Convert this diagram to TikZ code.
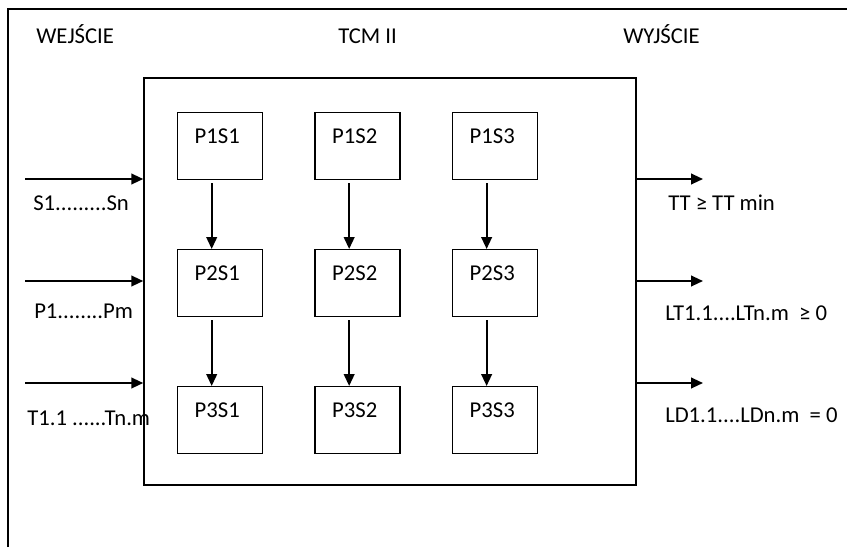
\documentclass[tikz,border=0pt]{standalone}
\usepackage{fontspec}
\setmainfont{Carlito}
\usetikzlibrary{positioning, arrows.meta}

\begin{document}
\begin{tikzpicture}[
			x=0.75pt, y=-0.75pt,
			node distance=51.4pt and 38.25pt, % Vertical and Horizontal spacing
			font=\fontsize{17}{20}\selectfont,
			>={Triangle[length=9pt, width=8pt]},
			% Style for the small process boxes
			stage/.style={
				draw,
				line width=1.1pt,
				text height=23.25pt,
				text depth=27pt,
				inner ysep=0pt,
				inner xsep=12.75pt,
				text width=38.25pt,
				align=left
			},
			% Style for the big TCM box
			frame/.style={
				draw,
				line width=1.1pt,
				minimum width=369pt,
				minimum height=305.25pt,
				inner sep=0pt
			},
			% Style for the arrows
			flow/.style={
				->,
				line width=1.5pt
			},
			% Style for the signal texts
			sig/.style={
				anchor=base west,
				inner sep=0pt
			}
			]
			
			\useasboundingbox (0,0) rectangle (847,547);
			
			% --- OUTER FRAME ---
			\coordinate (fBL) at (8,547);
			\coordinate (fTR) at (847,9);
			\draw[line width=1.1pt] (fBL) |- (fTR);
			
			% --- HEADINGS ---
			\node[sig] (inHead) at (36,43) {WEJŚCIE};
			\node[sig] (tcmHead) at (338,43) {TCM II};
			\node[sig] (outHead) at (623,43) {WYJŚCIE};
			
			% --- TCM BOX ---
			\node[frame] (tcm) at (390,281.5) {};
			
			% --- STAGES ---
			\node[stage, anchor=north west] (P1S1) at (177,112) {P1S1};
			\node[stage, right=of P1S1] (P1S2) {P1S2};
			\node[stage, right=of P1S2] (P1S3) {P1S3};
			
			\node[stage, below=of P1S1] (P2S1) {P2S1};
			\node[stage, below=of P1S2] (P2S2) {P2S2};
			\node[stage, below=of P1S3] (P2S3) {P2S3};
			
			\node[stage, below=of P2S1] (P3S1) {P3S1};
			\node[stage, below=of P2S2] (P3S2) {P3S2};
			\node[stage, below=of P2S3] (P3S3) {P3S3};
			
			% --- STAGE ARROWS ---
			\draw[flow, shorten <=2.25pt] ([xshift=-6.4pt]P1S1.south) -- ([xshift=-6.4pt]P2S1.north);
			\draw[flow, shorten <=2.25pt] ([xshift=-6.4pt]P1S2.south) -- ([xshift=-6.4pt]P2S2.north);
			\draw[flow, shorten <=2.25pt] ([xshift=-6.4pt]P1S3.south) -- ([xshift=-6.4pt]P2S3.north);
			\draw[flow, shorten <=2.25pt] ([xshift=-6.4pt]P2S1.south) -- ([xshift=-6.4pt]P3S1.north);
			\draw[flow, shorten <=2.25pt] ([xshift=-6.4pt]P2S2.south) -- ([xshift=-6.4pt]P3S2.north);
			\draw[flow, shorten <=2.25pt] ([xshift=-6.4pt]P2S3.south) -- ([xshift=-6.4pt]P3S3.north);
			
			% --- INPUTS ---
			\coordinate (in1) at (25,179);
			\coordinate (in2) at (25,281);
			\coordinate (in3) at (25,383);
			\draw[flow] (in1) -- (in1 -| tcm.west);
			\draw[flow] (in2) -- (in2 -| tcm.west);
			\draw[flow] (in3) -- (in3 -| tcm.west);
			\node[sig] (inS) at (33,210) {S1.........Sn};
			\node[sig] (inP) at (34,318) {P1........Pm};
			\node[sig] (inT) at (27,425) {T1.1 ......Tn.m};
			
			% --- OUTPUTS ---
			\coordinate (out1) at (703,179);
			\coordinate (out2) at (703,281);
			\coordinate (out3) at (703,383);
			\draw[flow] (out1 -| tcm.east) -- (out1);
			\draw[flow] (out2 -| tcm.east) -- (out2);
			\draw[flow] (out3 -| tcm.east) -- (out3);
			\node[sig] (outTT) at (668,210) {TT ≥ TT min};
			\node[sig] (outLT) at (665,320) {LT1.1....LTn.m \ ≥ 0};
			\node[sig] (outLD) at (665,422) {LD1.1....LDn.m \ = 0};
			
		\end{tikzpicture}
\end{document}
